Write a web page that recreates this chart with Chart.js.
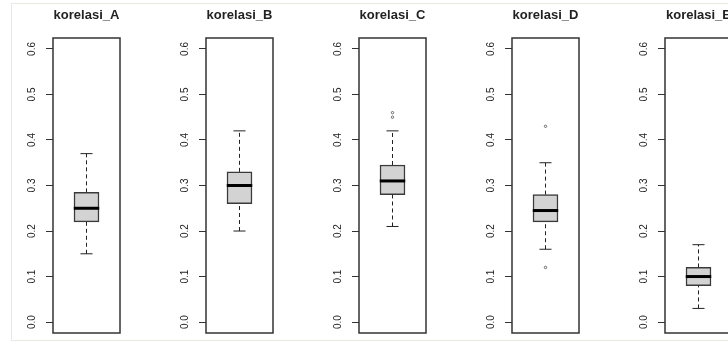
<!DOCTYPE html>
<html>
<head>
<meta charset="utf-8">
<script src="https://cdn.jsdelivr.net/npm/chart.js@4.4.1/dist/chart.umd.min.js"></script>
<style>
body{margin:0;width:728px;height:342px;overflow:hidden;background:#fff;position:relative}
#edge{position:absolute;left:11px;top:3px;width:760px;height:336px;border:1px solid #ebe8e0}
canvas{position:absolute;top:0}
</style>
</head>
<body>
<div id="edge"></div>
<script>
// one box per variable
const categories = ['korelasi_A', 'korelasi_B', 'korelasi_C', 'korelasi_D', 'korelasi_E']
const lowerWhisker = [0.15, 0.20, 0.21, 0.16, 0.03]
const q1 = [0.22, 0.26, 0.28, 0.22, 0.08]
const median = [0.25, 0.30, 0.31, 0.245, 0.10]
const q3 = [0.285, 0.33, 0.345, 0.28, 0.12]
const upperWhisker = [0.37, 0.42, 0.42, 0.35, 0.17]
const outliers = [[], [], [0.45, 0.46], [0.43, 0.12], []]
const yTicks = [0, 0.1, 0.2, 0.3, 0.4, 0.5, 0.6]
const yMin = -0.024
const yMax = 0.624

const PANEL_STEP = 153.1
const BOX_HALF = 0.19
const CAP_HALF = 0.09
const tickFont = {family: "'Liberation Sans', Arial, sans-serif", size: 10}

const framePlugin = {
  id: 'frame',
  afterDraw(chart){
    const {ctx, chartArea: a} = chart
    ctx.save()
    ctx.strokeStyle = '#333'
    ctx.lineWidth = 1.5
    ctx.strokeRect(a.left, a.top, a.right - a.left, a.bottom - a.top)
    ctx.restore()
  }
}

function seg(x0, y0, x1, y1){
  return [{x: x0, y: y0}, {x: x1, y: y1}]
}

categories.forEach((name, i) => {
  const canvas = document.createElement('canvas')
  canvas.width = 130
  canvas.height = 342
  canvas.style.left = Math.round(i * PANEL_STEP) + 'px'
  document.body.appendChild(canvas)

  const c = 0.5
  const lineDs = (data, extra) => Object.assign({
    type: 'line', data: data, borderColor: '#222', borderWidth: 1,
    pointRadius: 0, fill: false, tension: 0
  }, extra)

  new Chart(canvas, {
    type: 'bar',
    data: {
      datasets: [
        lineDs(seg(c - BOX_HALF, median[i], c + BOX_HALF, median[i]), {borderColor: '#000', borderWidth: 3, order: 0}),
        {type: 'scatter', data: outliers[i].map(v => ({x: c, y: v})), pointRadius: 1.2,
         pointBorderWidth: 1, borderColor: '#666', backgroundColor: 'rgba(0,0,0,0)', order: 1},
        lineDs(seg(c - CAP_HALF, upperWhisker[i], c + CAP_HALF, upperWhisker[i]), {order: 2}),
        lineDs(seg(c - CAP_HALF, lowerWhisker[i], c + CAP_HALF, lowerWhisker[i]), {order: 2}),
        lineDs(seg(c, q3[i], c, upperWhisker[i]), {borderDash: [4, 3], order: 3}),
        lineDs(seg(c, lowerWhisker[i], c, q1[i]), {borderDash: [4, 3], order: 3}),
        {type: 'bar', data: [{x: c, y: [q1[i], q3[i]]}], backgroundColor: '#d3d3d3',
         borderColor: '#3a3a3a', borderWidth: 1.5, borderSkipped: false, barThickness: 25, order: 4}
      ]
    },
    options: {
      responsive: false,
      animation: false,
      layout: {padding: {top: 0, right: 10, bottom: 9, left: 0}},
      plugins: {
        legend: {display: false},
        tooltip: {enabled: false},
        title: {
          display: true, text: name, fullSize: false, color: '#222',
          font: {family: "'Liberation Sans', Arial, sans-serif", size: 13, weight: 'bold', lineHeight: 1.2},
          padding: {top: 8, bottom: 14.4}
        }
      },
      scales: {
        x: {type: 'linear', min: 0, max: 1, offset: false, display: false},
        y: {
          min: yMin, max: yMax,
          afterBuildTicks: s => { s.ticks = yTicks.map(v => ({value: v})) },
          afterFit: s => { s.width = 53; s.paddingTop = 0; s.paddingBottom = 0 },
          border: {display: false},
          grid: {display: true, drawOnChartArea: false, drawTicks: true, tickLength: 7, tickColor: '#333', lineWidth: 1},
          ticks: {
            minRotation: 90, maxRotation: 90, crossAlign: 'center', padding: 6.5,
            font: tickFont, color: '#222',
            callback: v => Number(v).toFixed(1)
          }
        }
      }
    },
    plugins: [framePlugin]
  })
})
</script>
</body>
</html>
